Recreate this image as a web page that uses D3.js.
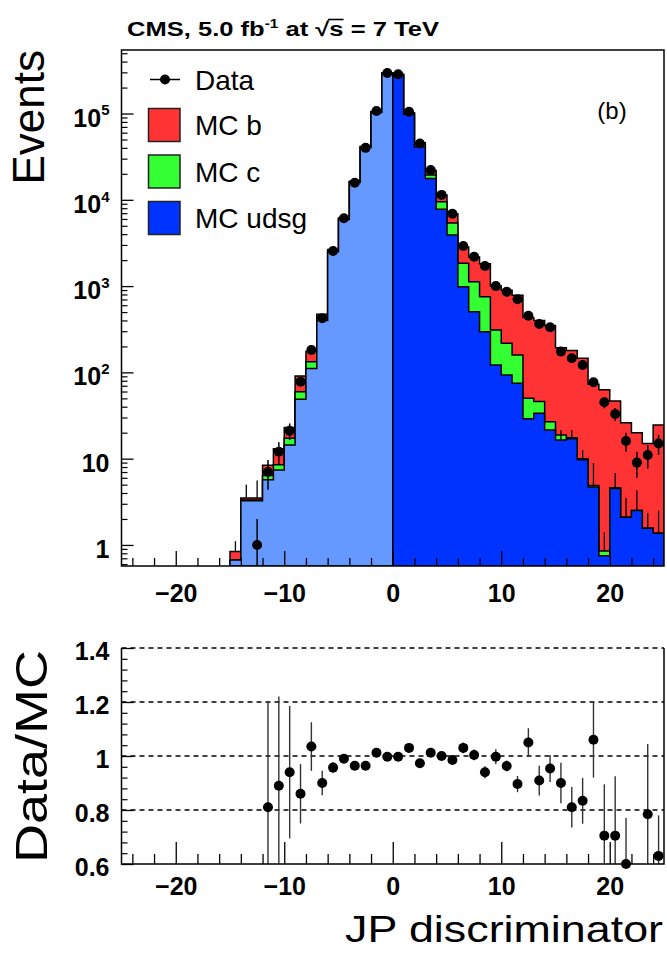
<!DOCTYPE html>
<html><head><meta charset="utf-8">
<script src="https://cdn.jsdelivr.net/npm/d3@7"></script>
<style>
body{margin:0;background:#fff;}
text{font-family:"Liberation Sans",Arial,Helvetica,sans-serif;}
</style>
</head><body>
<svg id="chart" width="667" height="954"></svg>
<script>
// ---------------- data ----------------
const binCenters = [-14.5,-13.5,-12.5,-11.5,-10.5,-9.5,-8.5,-7.5,-6.5,-5.5,-4.5,-3.5,-2.5,-1.5,-0.5,
  0.5,1.5,2.5,3.5,4.5,5.5,6.5,7.5,8.5,9.5,10.5,11.5,12.5,13.5,14.5,15.5,16.5,17.5,18.5,19.5,20.5,21.5,22.5,23.5,24.5];
const mcUdsg = [0.67,3.26,3.26,5.7,7.4,14.4,48.8,111,400,2500,5900,15900,40300,103000,290000,
  278000,98000,41000,17700,7800,3900,985,505,296,122,93,75,29,33.6,21.5,16.5,17,9.7,4.7,0.75,4.5,2.1,2.5,1.56,1.37];
const mcC = [0,0.05,0.05,0.7,1.1,2.8,11,22,35,90,150,300,700,1600,3500,
  4000,2500,3000,1700,1700,1500,855,615,458,188,124,84,21,12.4,5.3,2.3,0.5,0.3,0.2,0.1,0.1,0,0,0,0];
const mcB = [0.17,0.2,0.2,2.0,4.5,5.7,31,43,36,70,110,200,500,1100,2500,
  3000,1500,2000,2400,1900,1500,990,1060,1066,690,677,626,382,354,322,174,162,136,68,62,42,24,17.5,13.4,23.2];
const dataCounts = [0,0,1,7,12,21,78,182,424,2550,6100,15800,40000,107000,295000,
  285000,105000,45000,22100,11400,6900,2910,2190,1710,1000,861,703,454,364,333,174,146,122,77,45,33,16,9,11,15];

// MC statistical error lines visible in the picture (low / high ends, in events)
const mcErrCenters = [-14.5,-13.5,-12.5,15.5,16.5,17.5,18.5,19.5,20.5,21.5,22.5,23.5,24.5];
const mcErrLow  = [0.84,3.5,3.5,16.5,17,9.7,4.7,0.85,4.5,2.1,2.5,1.56,1.37];
const mcErrHigh = [1.1,5.0,5.6,21.5,21.5,12.6,8.9,1.4,6.8,3.5,4.3,2.35,2.5];

const ratioCenters = [-11.5,-10.5,-9.5,-8.5,-7.5,-6.5,-5.5,-4.5,-3.5,-2.5,-1.5,-0.5,0.5,1.5,2.5,3.5,4.5,5.5,6.5,7.5,8.5,9.5,
  10.5,11.5,12.5,13.5,14.5,15.5,16.5,17.5,18.5,19.5,20.5,21.5,23.5,24.5];
const ratioValues = [0.81,0.89,0.94,0.86,1.035,0.90,0.957,0.99,0.964,0.964,1.012,0.997,0.997,1.03,0.973,1.012,1.0,0.985,1.03,1.004,0.94,0.997,
  0.963,0.896,1.05,0.909,0.954,0.90,0.81,0.834,1.06,0.705,0.705,0.60,0.784,0.63];
const ratioErrors = [0.39,0.33,0.245,0.11,0.09,0.045,0.02,0.012,0.01,0.008,0.006,0.004,0.004,0.006,0.01,0.012,0.015,0.015,0.02,0.02,0.022,0.028,
  0.02,0.03,0.053,0.055,0.05,0.075,0.075,0.085,0.14,0.19,0.22,0.17,0.26,0.15];

const xTickValues = [-20,-10,0,10,20];
const yTickValues = [1,10,100,1000,10000,100000];
const ratioTickValues = [0.6,0.8,1,1.2,1.4];
const ratioTickLabels = ["0.6","0.8","1","1.2","1.4"];
const legendLabels = ["Data","MC b","MC c","MC udsg"];
const colB = "#ff3333", colC = "#33ff33", colUdsg = "#0033ff", colUdsgNeg = "#6699ff";

// ---------------- layout ----------------
const svg = d3.select("#chart");
const L = 121.5, R = 664, T1 = 50, B1 = 566, T2 = 648, B2 = 864;
const x = d3.scaleLinear().domain([-25,25]).range([L,R]);
const y = d3.scaleLog().domain([0.57,5.45e5]).range([B1,T1]).clamp(true);
const yr = d3.scaleLinear().domain([0.6,1.4]).range([B2,T2]);
const yv = v => v > 0 ? y(v) : B1;

svg.append("defs").append("clipPath").attr("id","clipTop")
  .append("rect").attr("x",L).attr("y",T1).attr("width",R-L).attr("height",B1-T1);
svg.select("defs").append("clipPath").attr("id","clipBot")
  .append("rect").attr("x",L).attr("y",T2).attr("width",R-L).attr("height",B2-T2);

// ---------------- histograms ----------------
function stepPath(idx, vals){
  const first = binCenters[idx[0]]-0.5, last = binCenters[idx[idx.length-1]]+0.5;
  let p = `M${x(first)},${B1}`;
  idx.forEach(i => {
    const lo = binCenters[i]-0.5, hi = binCenters[i]+0.5;
    p += `L${x(lo)},${yv(vals[i])}L${x(hi)},${yv(vals[i])}`;
  });
  p += `L${x(last)},${B1}Z`;
  return p;
}
const allIdx = d3.range(binCenters.length);
const negIdx = allIdx.filter(i => binCenters[i] < 0);
const posIdx = allIdx.filter(i => binCenters[i] > 0);
const total = allIdx.map(i => mcUdsg[i]+mcC[i]+mcB[i]);
const udsgC = allIdx.map(i => mcUdsg[i]+mcC[i]);

const gTop = svg.append("g").attr("clip-path","url(#clipTop)");
const hStyle = (sel, fill) => sel.attr("fill",fill).attr("stroke","#000").attr("stroke-width",1.5).attr("stroke-linejoin","miter");
hStyle(gTop.append("path").attr("d",stepPath(allIdx,total)), colB);
hStyle(gTop.append("path").attr("d",stepPath(allIdx,udsgC)), colC);
hStyle(gTop.append("path").attr("d",stepPath(negIdx,mcUdsg)), colUdsgNeg);
hStyle(gTop.append("path").attr("d",stepPath(posIdx,mcUdsg)), colUdsg);

// MC error lines
gTop.selectAll("line.mcerr").data(d3.range(mcErrCenters.length)).join("line").attr("class","mcerr")
  .attr("x1",i=>x(mcErrCenters[i])).attr("x2",i=>x(mcErrCenters[i]))
  .attr("y1",i=>yv(mcErrLow[i])).attr("y2",i=>yv(mcErrHigh[i]))
  .attr("stroke","#000").attr("stroke-width",1.3);

// data points with sqrt(N) errors
const dataIdx = allIdx.filter(i => dataCounts[i] > 0);
gTop.selectAll("line.derr").data(dataIdx).join("line").attr("class","derr")
  .attr("x1",i=>x(binCenters[i])).attr("x2",i=>x(binCenters[i]))
  .attr("y1",i=>yv(dataCounts[i]+Math.sqrt(dataCounts[i])))
  .attr("y2",i=>yv(dataCounts[i]-Math.sqrt(dataCounts[i])))
  .attr("stroke","#000").attr("stroke-width",1.5);
svg.selectAll("circle.dpt").data(dataIdx).join("circle").attr("class","dpt")
  .attr("cx",i=>x(binCenters[i])).attr("cy",i=>yv(dataCounts[i])).attr("r",5).attr("fill","#000");

// frame top panel
svg.append("rect").attr("x",L).attr("y",T1).attr("width",R-L).attr("height",B1-T1)
  .attr("fill","none").attr("stroke","#000").attr("stroke-width",1.5);

// axes top panel
const minorX = d3.range(-24,25,2).filter(v => v%10!==0);
svg.append("g").attr("transform",`translate(0,${B1})`)
  .call(d3.axisBottom(x).tickValues(minorX).tickSize(-8).tickFormat(""))
  .call(g=>{g.select(".domain").remove(); g.selectAll("line").attr("stroke-width",1.3);});
const xaTop = svg.append("g").attr("transform",`translate(0,${B1})`)
  .call(d3.axisBottom(x).tickValues(xTickValues).tickSize(-15).tickPadding(18).tickFormat(d3.format("d")))
  .call(g=>{g.select(".domain").remove(); g.selectAll("line").attr("stroke-width",1.3);});
xaTop.selectAll("text").attr("font-size",25).attr("font-weight","bold").attr("fill","#000")
  .attr("font-family","Liberation Sans, Arial, sans-serif").attr("dy","0.71em");

const minorY = [];
[-1,0,1,2,3,4,5].forEach(e => d3.range(2,10).forEach(m => { const v = m*Math.pow(10,e); if (v>0.57 && v<5.45e5) minorY.push(v); }));
svg.append("g").attr("transform",`translate(${L},0)`)
  .call(d3.axisLeft(y).tickValues(minorY).tickSize(-6).tickFormat(""))
  .call(g=>{g.select(".domain").remove(); g.selectAll("line").attr("stroke-width",1.2);});
const yaTop = svg.append("g").attr("transform",`translate(${L},0)`)
  .call(d3.axisLeft(y).tickValues(yTickValues).tickSize(-12).tickPadding(12).tickFormat(d=>d<100?String(d):"10"))
  .call(g=>{g.select(".domain").remove(); g.selectAll("line").attr("stroke-width",1.3);});
yaTop.selectAll("text").attr("font-size",25).attr("font-weight","bold").attr("fill","#000")
  .attr("font-family","Liberation Sans, Arial, sans-serif").attr("dy","0.5em")
  .each(function(d){ if (d>=100){ d3.select(this).append("tspan").attr("dy","-0.75em").attr("font-size",15).text(String(Math.round(Math.log10(d)))); }});

// ---------------- ratio panel ----------------
const gBot = svg.append("g");
gBot.selectAll("line.grid").data(ratioTickValues.filter(v=>v>0.6)).join("line").attr("class","grid")
  .attr("x1",L).attr("x2",R).attr("y1",d=>yr(d)).attr("y2",d=>yr(d))
  .attr("stroke","#000").attr("stroke-width",1.4).attr("stroke-dasharray","5,4");
const gBotClip = svg.append("g").attr("clip-path","url(#clipBot)");
gBotClip.selectAll("line.rerr").data(d3.range(ratioCenters.length)).join("line").attr("class","rerr")
  .attr("x1",i=>x(ratioCenters[i])).attr("x2",i=>x(ratioCenters[i]))
  .attr("y1",i=>yr(ratioValues[i]+ratioErrors[i])).attr("y2",i=>yr(ratioValues[i]-ratioErrors[i]))
  .attr("stroke","#333").attr("stroke-width",1.4);
svg.selectAll("circle.rpt").data(d3.range(ratioCenters.length)).join("circle").attr("class","rpt")
  .attr("cx",i=>x(ratioCenters[i])).attr("cy",i=>yr(ratioValues[i])).attr("r",5).attr("fill","#000");
svg.append("path").attr("d",`M${L},${T2}V${B2}H${R}V${T2}`).attr("fill","none").attr("stroke","#000").attr("stroke-width",1.5);

svg.append("g").attr("transform",`translate(0,${B2})`)
  .call(d3.axisBottom(x).tickValues(minorX).tickSize(-10).tickFormat(""))
  .call(g=>{g.select(".domain").remove(); g.selectAll("line").attr("stroke-width",1.3);});
const xaBot = svg.append("g").attr("transform",`translate(0,${B2})`)
  .call(d3.axisBottom(x).tickValues(xTickValues).tickSize(-22).tickPadding(13).tickFormat(d3.format("d")))
  .call(g=>{g.select(".domain").remove(); g.selectAll("line").attr("stroke-width",1.3);});
xaBot.selectAll("text").attr("font-size",25).attr("font-weight","bold").attr("fill","#000")
  .attr("font-family","Liberation Sans, Arial, sans-serif").attr("dy","0.71em");

const minorR = d3.range(0.64,1.4,0.04).filter(v => Math.abs((v*5)-Math.round(v*5))>0.01);
svg.append("g").attr("transform",`translate(${L},0)`)
  .call(d3.axisLeft(yr).tickValues(minorR).tickSize(-6).tickFormat(""))
  .call(g=>{g.select(".domain").remove(); g.selectAll("line").attr("stroke-width",1.2);});
const yaBot = svg.append("g").attr("transform",`translate(${L},0)`)
  .call(d3.axisLeft(yr).tickValues(ratioTickValues).tickSize(-12).tickPadding(12).tickFormat((d,i)=>ratioTickLabels[i]))
  .call(g=>{g.select(".domain").remove(); g.selectAll("line").attr("stroke-width",1.3);});
yaBot.selectAll("text").attr("font-size",25).attr("font-weight","bold").attr("fill","#000")
  .attr("font-family","Liberation Sans, Arial, sans-serif").attr("dy","0.45em");

// ---------------- titles ----------------
svg.append("text").attr("transform","translate(44,50) rotate(-90)").attr("text-anchor","end")
  .attr("font-size",44).attr("fill","#000").text("Events");
svg.append("text").attr("transform","translate(47,650) rotate(-90)").attr("text-anchor","end")
  .attr("font-size",44).attr("fill","#000").attr("textLength",213).attr("lengthAdjust","spacingAndGlyphs").text("Data/MC");
svg.append("text").attr("x",663).attr("y",942).attr("text-anchor","end")
  .attr("font-size",37).attr("fill","#000").attr("textLength",318).attr("lengthAdjust","spacingAndGlyphs").text("JP discriminator");
svg.append("text").attr("x",612).attr("y",119).attr("text-anchor","middle").attr("font-size",24).attr("fill","#000").text("(b)");

// CMS title
const tg = svg.append("g");
const parts = [{t:"CMS, 5.0 fb"},{t:"-1",sup:true},{t:"\u00A0at\u00A0\u221A"},{t:"s",over:true},{t:"\u00A0=\u00A07\u00A0TeV"}];
let cx = 0;
parts.forEach(p => {
  const el = tg.append("text").attr("x",cx).attr("y",p.sup?-8:0).attr("font-size",p.sup?12:20)
    .attr("font-weight","bold").attr("fill","#000").text(p.t);
  const w = el.node().getComputedTextLength();
  if (p.over) tg.append("line").attr("x1",cx-1).attr("x2",cx+w).attr("y1",-16.5).attr("y2",-16.5).attr("stroke","#000").attr("stroke-width",1.6);
  cx += w;
});
tg.attr("transform",`translate(127,36) scale(${312/cx},1)`);

// ---------------- legend ----------------
const lg = svg.append("g");
const rowY = [79.5,125,171.5,218];
lg.append("line").attr("x1",150).attr("x2",180).attr("y1",rowY[0]).attr("y2",rowY[0]).attr("stroke","#000").attr("stroke-width",1.5);
lg.append("circle").attr("cx",165).attr("cy",rowY[0]).attr("r",5).attr("fill","#000");
[colB,colC,colUdsg].forEach((c,i) => {
  lg.append("rect").attr("x",148.5).attr("y",rowY[i+1]-16.5).attr("width",31.5).attr("height",33)
    .attr("fill",c).attr("stroke","#222").attr("stroke-width",1.5);
});
legendLabels.forEach((t,i) => {
  lg.append("text").attr("x",195).attr("y",rowY[i]+10).attr("font-size",28).attr("fill","#000").text(t);
});
</script>
</body></html>
